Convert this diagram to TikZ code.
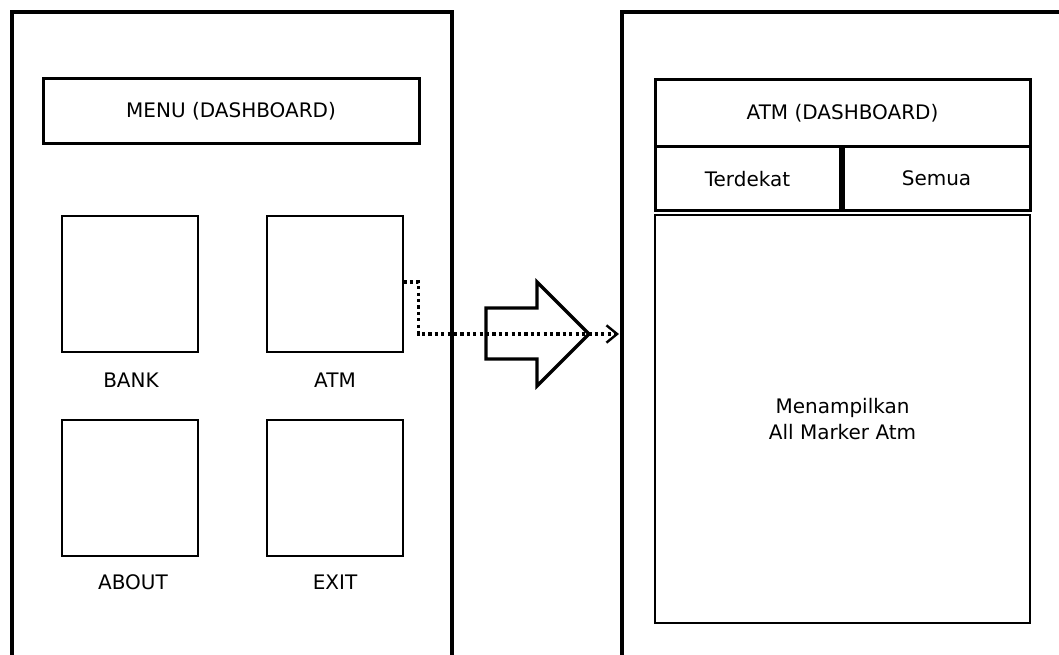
\documentclass[tikz,border=0pt]{standalone}
\usepackage{fontspec}
\setmainfont{DejaVu Sans}
\usetikzlibrary{arrows.meta}

\begin{document}
\begin{tikzpicture}[x=0.75pt,y=-0.75pt,font=\fontsize{15}{19.5}\selectfont]
        \tikzstyle{phone}=[draw,line width=2.4pt,inner sep=0pt]
        \tikzstyle{bar}=[draw,line width=2.25pt,inner sep=0pt]
        \tikzstyle{icon}=[draw,line width=1.5pt,minimum size=102pt,inner sep=0pt]
        \tikzstyle{caption}=[inner sep=0pt]
        \tikzstyle{tap}=[line width=2.6pt,dash pattern=on 2.4pt off 2.4pt,-{Straight Barb[length=8pt,width=13pt,line width=1.8pt]}]
        \useasboundingbox (0,0) rectangle (1059,655);
       % left screen: main menu
       \begin{scope}
         \node [phone,minimum width=330pt,minimum height=516pt] (lphone) at (232,356) {};
         \node [bar,minimum width=282pt,minimum height=48.75pt] (menu) at (231,111) {MENU (DASHBOARD)};
         \node [icon] (bank) at (130,284) {};
         \node [icon] (atm) at (334.5,284) {};
         \node [icon] (about) at (130,488) {};
         \node [icon] (exit) at (334.5,488) {};
         \node [caption] (lbank) at (131,380) {BANK};
         \node [caption] (latm) at (335,380) {ATM};
         \node [caption] (labout) at (133,582) {ABOUT};
         \node [caption] (lexit) at (335,582) {EXIT};
        \end{scope}
       % right screen: atm dashboard
       \begin{scope}
         \node [phone,minimum width=366pt,minimum height=516pt] (rphone) at (866,356) {};
         \node [bar,minimum width=281.25pt,minimum height=50.25pt] (atmdash) at (842.5,113.5) {ATM (DASHBOARD)};
         \node [bar,minimum width=138.75pt,minimum height=48pt] (near) at (747.5,179) {\raisebox{-3pt}{Terdekat}};
         \node [bar,minimum width=140.25pt,minimum height=48pt] (all) at (936.5,179) {\raisebox{2pt}{Semua}};
         \node [draw,line width=1.5pt,minimum width=281.25pt,minimum height=306pt,align=center] (map) at (842.5,419) {Menampilkan\\All Marker Atm};
        \end{scope}
         % big block arrow between the screens
         \draw [line width=2.4pt,line join=miter] (486,308) -- (537,308) -- (537,282) -- (589,334) -- (537,386) -- (537,359) -- (486,359) -- cycle;
         \coordinate (hit) at (619,334);
         \draw [tap] ([yshift=1.5pt]atm.east) -- ++(15,0) |- (hit);
      \end{tikzpicture}
\end{document}
